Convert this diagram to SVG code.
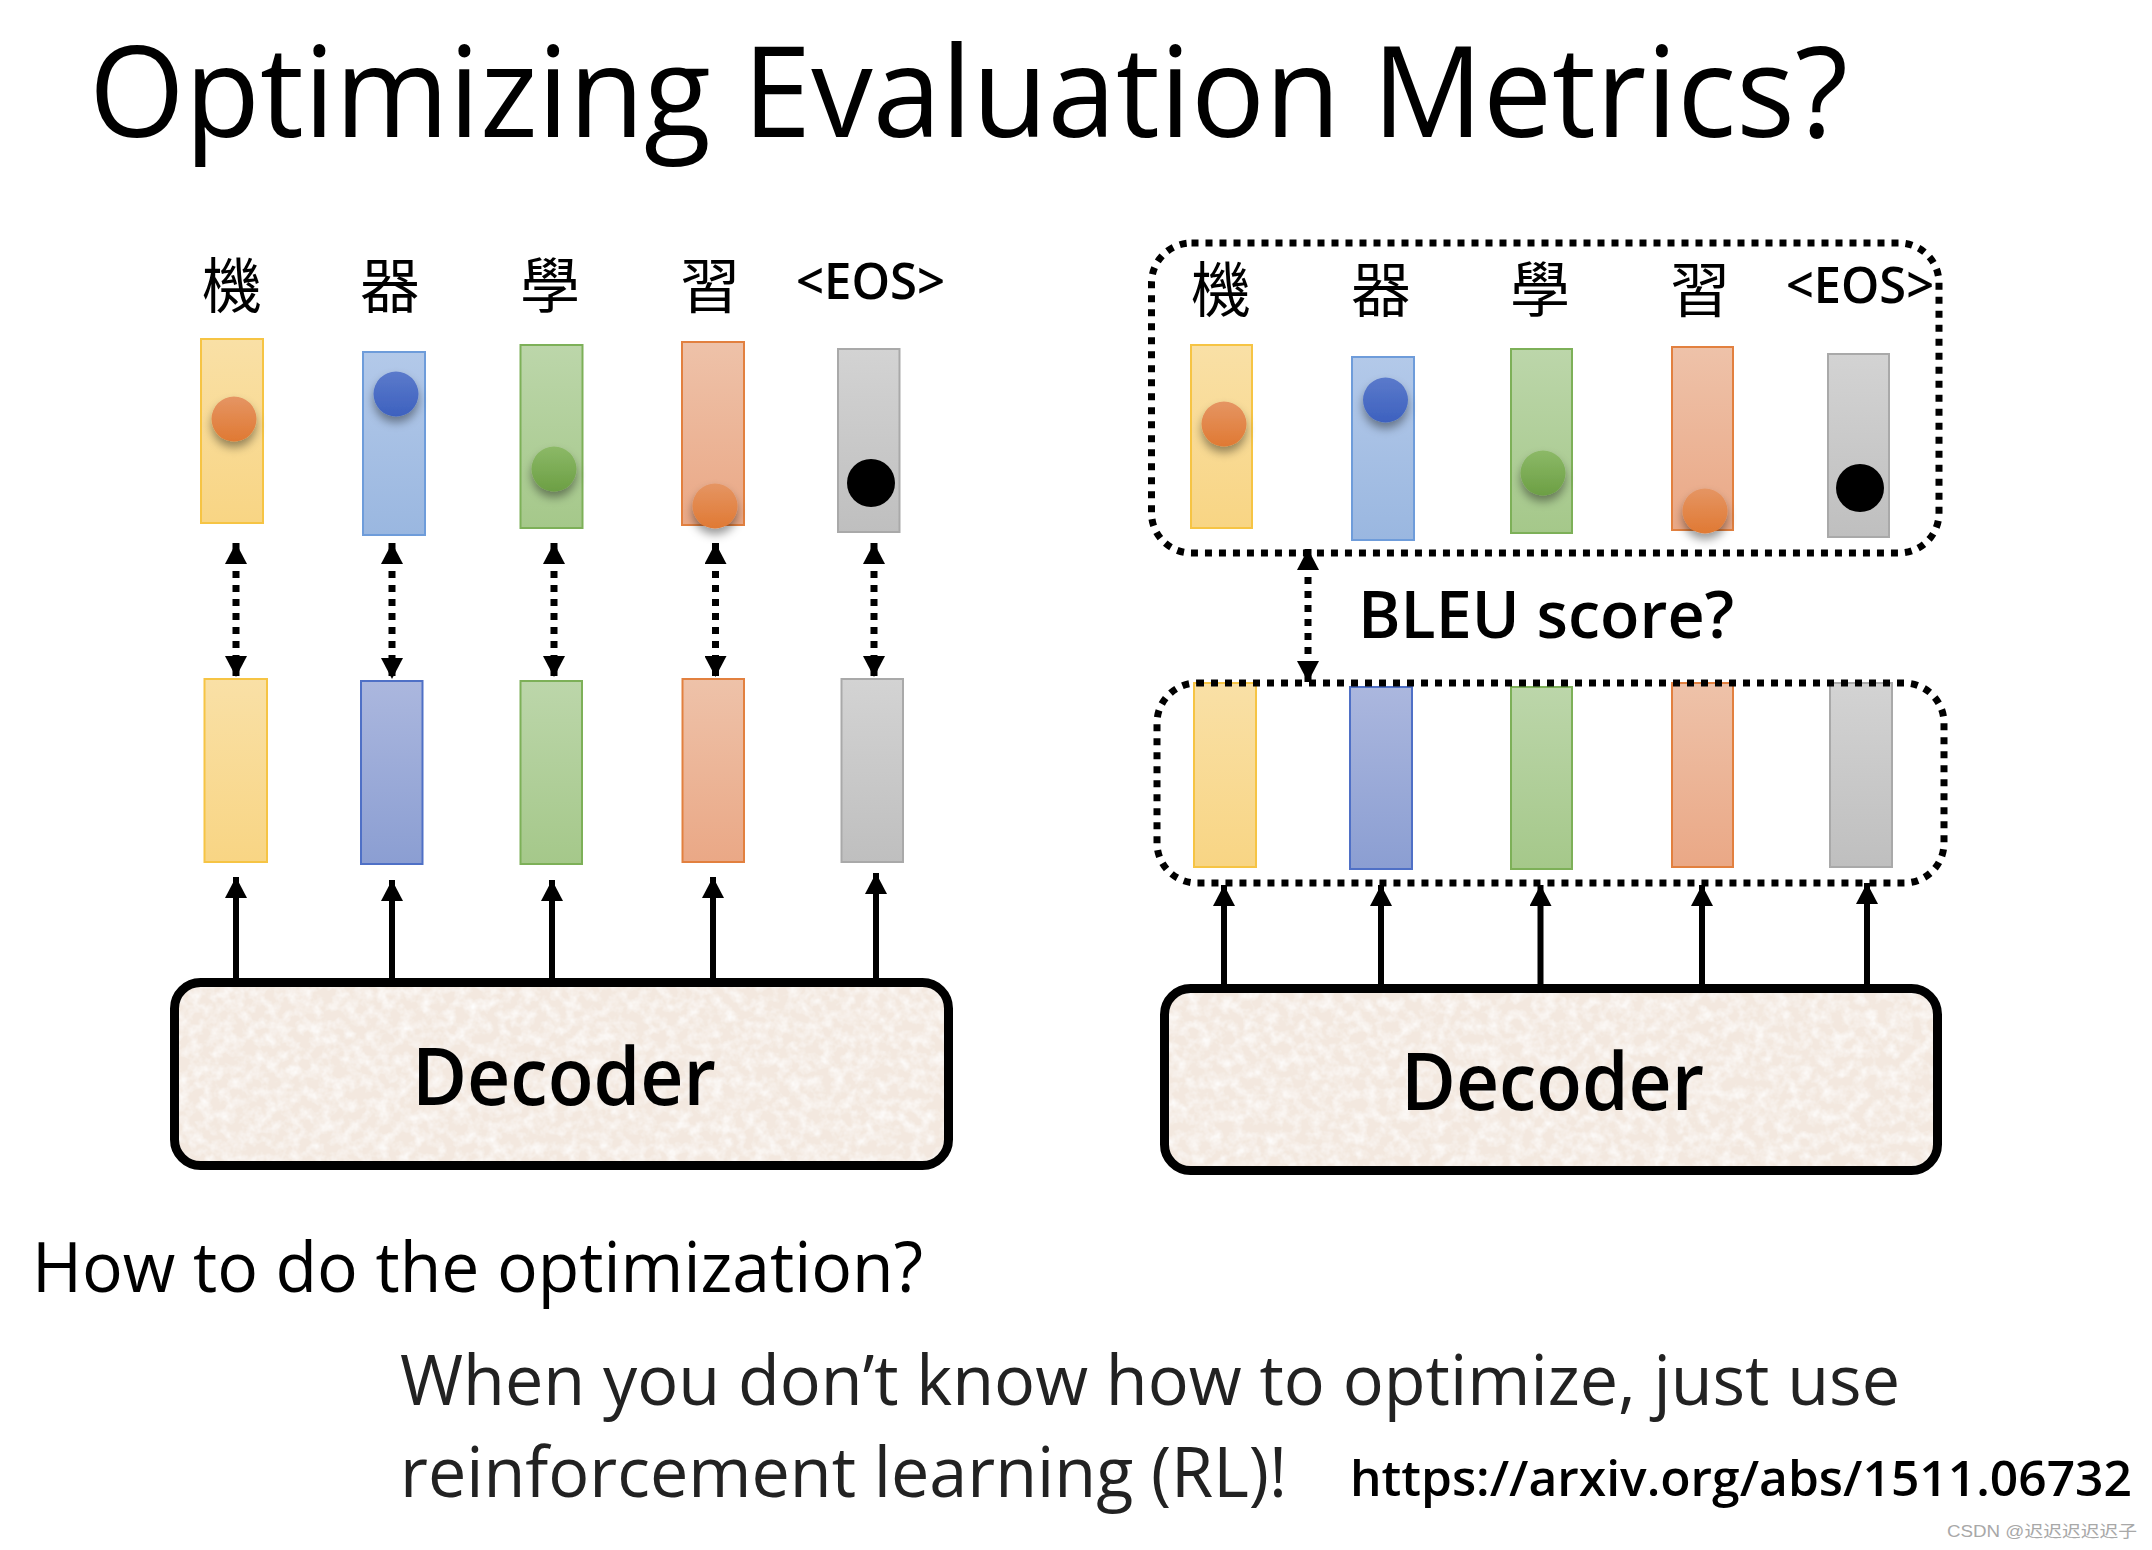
<svg xmlns="http://www.w3.org/2000/svg" width="2152" height="1550" viewBox="0 0 2152 1550">
<style>
.lat{font-family:"Open Sans","Liberation Sans",sans-serif;fill:#000}
.semi{font-weight:600}
.cjk{font-family:"Noto Sans CJK TC","Noto Sans CJK SC",sans-serif;font-size:60px;fill:#000;text-anchor:middle}
.bar{stroke-width:2}
.y{fill:url(#gY);stroke:#F6C444}
.b{fill:url(#gB);stroke:#6E9CDA}
.b2{fill:url(#gB2);stroke:#4F70C6}
.g{fill:url(#gG);stroke:#7DB058}
.o{fill:url(#gO);stroke:#E2803F}
.k{fill:url(#gK);stroke:#A9A9A9}
.decfill{fill:#F3E8DF}
.dec{fill:none;stroke:#000;stroke-width:9}
.dbox{fill:none;stroke:#000;stroke-width:7;stroke-dasharray:7 7}
.dash{stroke:#000;stroke-width:7;stroke-dasharray:7 7;fill:none}
.solid{stroke:#000;stroke-width:6;fill:none}
</style>
<defs>
<linearGradient id="gY" x1="0" y1="0" x2="0" y2="1"><stop offset="0" stop-color="#F9E0A6"/><stop offset="1" stop-color="#F8D584"/></linearGradient>
<linearGradient id="gB" x1="0" y1="0" x2="0" y2="1"><stop offset="0" stop-color="#B3C9E9"/><stop offset="1" stop-color="#9AB7E0"/></linearGradient>
<linearGradient id="gB2" x1="0" y1="0" x2="0" y2="1"><stop offset="0" stop-color="#ABB7DE"/><stop offset="1" stop-color="#8B9ED2"/></linearGradient>
<linearGradient id="gG" x1="0" y1="0" x2="0" y2="1"><stop offset="0" stop-color="#BCD6AA"/><stop offset="1" stop-color="#A5C88A"/></linearGradient>
<linearGradient id="gO" x1="0" y1="0" x2="0" y2="1"><stop offset="0" stop-color="#EEC2A9"/><stop offset="1" stop-color="#EAA886"/></linearGradient>
<linearGradient id="gK" x1="0" y1="0" x2="0" y2="1"><stop offset="0" stop-color="#D3D3D3"/><stop offset="1" stop-color="#BFBFBF"/></linearGradient>
<linearGradient id="dO" x1="0" y1="0" x2="0" y2="1"><stop offset="0" stop-color="#E59563"/><stop offset="1" stop-color="#E07933"/></linearGradient>
<linearGradient id="dB" x1="0" y1="0" x2="0" y2="1"><stop offset="0" stop-color="#5B7ACB"/><stop offset="1" stop-color="#3D61BF"/></linearGradient>
<linearGradient id="dG" x1="0" y1="0" x2="0" y2="1"><stop offset="0" stop-color="#8CB967"/><stop offset="1" stop-color="#6C9F44"/></linearGradient>
<filter id="sh" x="-50%" y="-50%" width="200%" height="200%"><feDropShadow dx="0" dy="6" stdDeviation="5" flood-color="#000" flood-opacity="0.4"/></filter>
<filter id="tex" x="0" y="0" width="100%" height="100%">
<feTurbulence type="fractalNoise" baseFrequency="0.09" numOctaves="3" seed="7" result="n"/>
<feColorMatrix in="n" type="matrix" values="0 0 0 0 1  0 0 0 0 1  0 0 0 0 1  1.6 0 0 0 -0.6" result="w"/>
<feComposite in="w" in2="SourceGraphic" operator="in" result="wc"/>
<feMerge><feMergeNode in="SourceGraphic"/><feMergeNode in="wc"/></feMerge>
</filter>
<marker id="ah" markerUnits="userSpaceOnUse" markerWidth="22" markerHeight="22" viewBox="0 0 21 22" refX="21" refY="11" orient="auto-start-reverse"><path d="M0,0 L21,11 L0,22 Z" fill="#000"/></marker>
</defs>
<rect width="2152" height="1550" fill="#fff"/>

<g id="title"><text class="lat" x="89" y="137" font-size="126" textLength="1759" lengthAdjust="spacingAndGlyphs">Optimizing Evaluation Metrics?</text></g>

<g id="left-labels">
<text class="cjk" x="232" y="308">機</text>
<text class="cjk" x="390" y="308">器</text>
<text class="cjk" x="550" y="308">學</text>
<text class="cjk" x="710" y="308">習</text>
<text class="lat semi" x="796" y="299" font-size="51" textLength="149" lengthAdjust="spacingAndGlyphs">&lt;EOS&gt;</text>
</g>

<g id="left-dist">
<rect class="bar y" x="201" y="339" width="62" height="184"/>
<rect class="bar b" x="363" y="352" width="62" height="183"/>
<rect class="bar g" x="520.5" y="345" width="62" height="183"/>
<rect class="bar o" x="682" y="342" width="62" height="183"/>
<rect class="bar k" x="838" y="349" width="61.5" height="183"/>
<circle cx="234" cy="419" r="22.5" fill="url(#dO)" filter="url(#sh)"/>
<circle cx="396" cy="394" r="22.5" fill="url(#dB)" filter="url(#sh)"/>
<circle cx="554" cy="469" r="22.5" fill="url(#dG)" filter="url(#sh)"/>
<circle cx="715" cy="506" r="22.5" fill="url(#dO)" filter="url(#sh)"/>
<circle cx="871" cy="483" r="24" fill="#000"/>
</g>

<g id="left-truth">
<rect class="bar y" x="204.5" y="679" width="62.5" height="183"/>
<rect class="bar b2" x="361" y="681" width="61.5" height="183"/>
<rect class="bar g" x="520.5" y="681" width="61.5" height="183"/>
<rect class="bar o" x="682.5" y="679" width="61.5" height="183"/>
<rect class="bar k" x="841.5" y="679" width="61.5" height="183"/>
</g>

<g id="left-decoder">
<rect class="decfill" x="174.5" y="982.5" width="774" height="183" rx="26" filter="url(#tex)"/>
<rect class="dec" x="174.5" y="982.5" width="774" height="183" rx="26"/>
<text class="lat semi" x="412" y="1105" font-size="79" textLength="304" lengthAdjust="spacingAndGlyphs">Decoder</text>
</g>

<g id="right-dist-box">
<rect class="dbox" x="1151.5" y="243" width="787.5" height="310" rx="40"/>
<text class="cjk" x="1221" y="312">機</text>
<text class="cjk" x="1381" y="312">器</text>
<text class="cjk" x="1540" y="312">學</text>
<text class="cjk" x="1700" y="312">習</text>
<text class="lat semi" x="1786" y="303" font-size="51" textLength="148" lengthAdjust="spacingAndGlyphs">&lt;EOS&gt;</text>
<rect class="bar y" x="1191" y="345" width="61" height="183"/>
<rect class="bar b" x="1352" y="357" width="62" height="183"/>
<rect class="bar g" x="1511" y="349" width="61" height="184"/>
<rect class="bar o" x="1672" y="347" width="61" height="183"/>
<rect class="bar k" x="1828" y="354" width="61" height="183"/>
<circle cx="1224" cy="424" r="22.5" fill="url(#dO)" filter="url(#sh)"/>
<circle cx="1385.5" cy="400" r="22.5" fill="url(#dB)" filter="url(#sh)"/>
<circle cx="1543" cy="473" r="22.5" fill="url(#dG)" filter="url(#sh)"/>
<circle cx="1705" cy="511" r="22.5" fill="url(#dO)" filter="url(#sh)"/>
<circle cx="1860" cy="488" r="24" fill="#000"/>
</g>

<g id="bleu-label"><text class="lat semi" x="1358" y="638" font-size="66" textLength="376" lengthAdjust="spacingAndGlyphs">BLEU score?</text></g>

<g id="right-truth-box">
<rect class="bar y" x="1194" y="683" width="62" height="184"/>
<rect class="bar b2" x="1350" y="687" width="62" height="182"/>
<rect class="bar g" x="1511" y="687" width="61" height="182"/>
<rect class="bar o" x="1672" y="683" width="61" height="184"/>
<rect class="bar k" x="1830" y="683" width="62" height="184"/>
<rect class="dbox" x="1157" y="683" width="787" height="200" rx="40"/>
</g>

<g id="right-decoder">
<rect class="decfill" x="1164.5" y="988.5" width="773" height="182" rx="26" filter="url(#tex)"/>
<rect class="dec" x="1164.5" y="988.5" width="773" height="182" rx="26"/>
<text class="lat semi" x="1401" y="1110" font-size="79" textLength="303" lengthAdjust="spacingAndGlyphs">Decoder</text>
</g>

<g id="connectors">
<line class="dash" x1="236" y1="543" x2="236" y2="677" marker-start="url(#ah)" marker-end="url(#ah)"/>
<line class="dash" x1="392" y1="543" x2="392" y2="679" marker-start="url(#ah)" marker-end="url(#ah)"/>
<line class="dash" x1="554" y1="543" x2="554" y2="677" marker-start="url(#ah)" marker-end="url(#ah)"/>
<line class="dash" x1="715.5" y1="543" x2="715.5" y2="677" marker-start="url(#ah)" marker-end="url(#ah)"/>
<line class="dash" x1="874" y1="543" x2="874" y2="677" marker-start="url(#ah)" marker-end="url(#ah)"/>
<line class="solid" x1="236" y1="978" x2="236" y2="877" marker-end="url(#ah)"/>
<line class="solid" x1="392" y1="978" x2="392" y2="880" marker-end="url(#ah)"/>
<line class="solid" x1="552" y1="978" x2="552" y2="880" marker-end="url(#ah)"/>
<line class="solid" x1="713" y1="978" x2="713" y2="877" marker-end="url(#ah)"/>
<line class="solid" x1="876" y1="978" x2="876" y2="873" marker-end="url(#ah)"/>
<line class="dash" x1="1308" y1="549" x2="1308" y2="682" marker-start="url(#ah)" marker-end="url(#ah)"/>
<line class="solid" x1="1224" y1="984" x2="1224" y2="885" marker-end="url(#ah)"/>
<line class="solid" x1="1381" y1="984" x2="1381" y2="885" marker-end="url(#ah)"/>
<line class="solid" x1="1540.5" y1="984" x2="1540.5" y2="885" marker-end="url(#ah)"/>
<line class="solid" x1="1702" y1="984" x2="1702" y2="885" marker-end="url(#ah)"/>
<line class="solid" x1="1867" y1="984" x2="1867" y2="883" marker-end="url(#ah)"/>
</g>

<g id="bottom-text">
<text class="lat" x="32" y="1292" font-size="69" textLength="891" lengthAdjust="spacingAndGlyphs">How to do the optimization?</text>
<text class="lat" x="400" y="1405" font-size="70" style="fill:#222" textLength="1500" lengthAdjust="spacingAndGlyphs">When you don’t know how to optimize, just use</text>
<text class="lat" x="400" y="1497" font-size="70" style="fill:#222" textLength="887" lengthAdjust="spacingAndGlyphs">reinforcement learning (RL)!</text>
<text class="lat semi" x="1350" y="1496" font-size="48" textLength="782" lengthAdjust="spacingAndGlyphs">https://arxiv.org/abs/1511.06732</text>
<text x="1947" y="1537" font-size="16" fill="#A8A8A8" font-family="Liberation Sans, Noto Sans CJK SC, sans-serif" textLength="190" lengthAdjust="spacingAndGlyphs">CSDN @迟迟迟迟迟子</text>
</g>
</svg>
